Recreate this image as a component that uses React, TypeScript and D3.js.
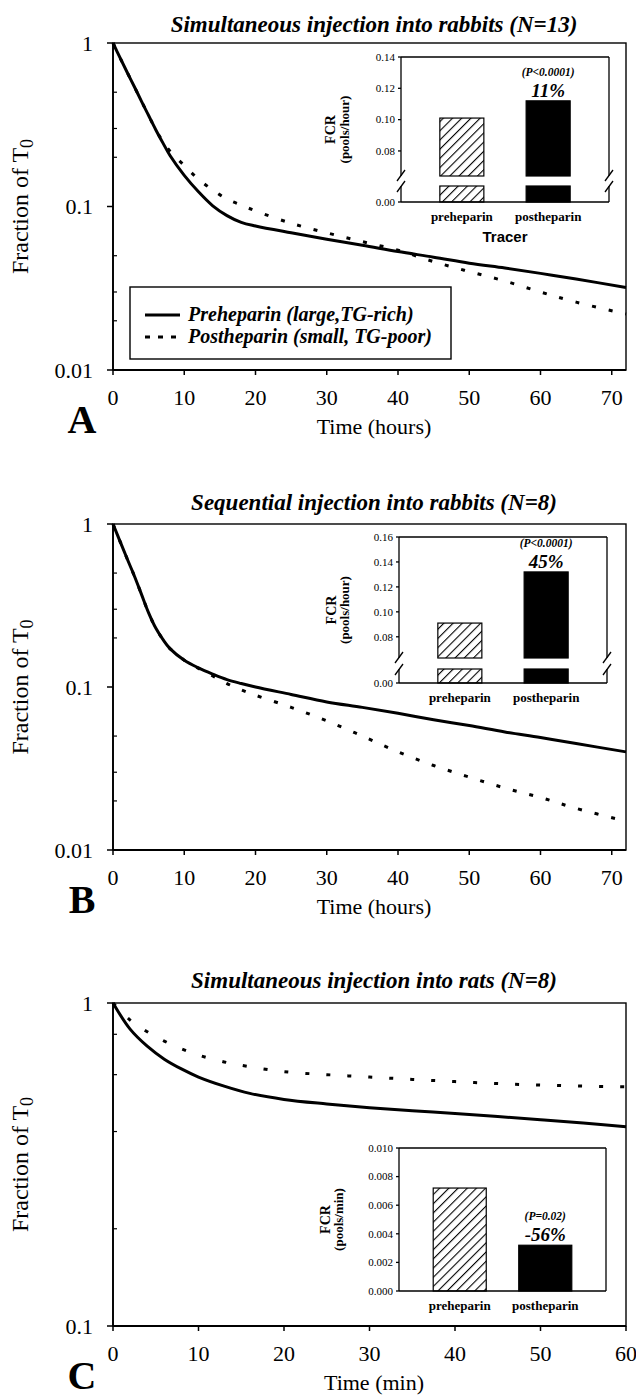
import React from "react"
import * as d3 from "d3"

const serif = "'Liberation Serif', 'Times New Roman', serif"
const sans = "'Liberation Sans', Arial, sans-serif"

// sampling times (hours) for the two rabbit panels
const hours = [0, 1, 2, 3, 4, 5, 6, 7, 8, 10, 12, 14, 16, 18, 20, 25, 30, 35, 40, 45, 50, 55, 60, 65, 72]
// fraction of T0 remaining
const preA = [1, 0.81, 0.66, 0.54, 0.44, 0.36, 0.295, 0.245, 0.205, 0.155, 0.123, 0.101, 0.088, 0.08, 0.076, 0.069, 0.063, 0.058, 0.053, 0.049, 0.045, 0.042, 0.039, 0.036, 0.032]
const postA = [1, 0.81, 0.66, 0.54, 0.44, 0.36, 0.295, 0.25, 0.218, 0.178, 0.147, 0.126, 0.111, 0.102, 0.094, 0.079, 0.069, 0.061, 0.054, 0.046, 0.04, 0.035, 0.03, 0.026, 0.022]
const preB = [1, 0.78, 0.61, 0.48, 0.37, 0.285, 0.23, 0.196, 0.172, 0.146, 0.131, 0.12, 0.111, 0.105, 0.1, 0.09, 0.081, 0.075, 0.069, 0.063, 0.058, 0.053, 0.049, 0.045, 0.04]
const postB = [1, 0.78, 0.61, 0.48, 0.37, 0.285, 0.23, 0.196, 0.172, 0.146, 0.13, 0.117, 0.105, 0.096, 0.089, 0.075, 0.062, 0.05, 0.04, 0.033, 0.028, 0.024, 0.021, 0.018, 0.015]
// rats, minutes
const minutes = [0, 2, 4, 6, 8, 10, 13, 16, 20, 25, 30, 35, 40, 45, 50, 55, 60]
const preC = [1, 0.83, 0.735, 0.67, 0.625, 0.59, 0.553, 0.525, 0.503, 0.487, 0.474, 0.464, 0.455, 0.445, 0.435, 0.425, 0.414]
const postC = [1, 0.885, 0.815, 0.762, 0.722, 0.69, 0.657, 0.635, 0.613, 0.6, 0.59, 0.58, 0.571, 0.563, 0.557, 0.553, 0.55]

// inset bar values (FCR)
const tracers = ["preheparin", "postheparin"]
const fcrA = [0.101, 0.112]
const fcrB = [0.091, 0.132]
const fcrC = [0.0072, 0.0032]

// ticks
const hourTicks = [0, 10, 20, 30, 40, 50, 60, 70]
const minTicks = [0, 10, 20, 30, 40, 50, 60]
const fracTicksAB = [1, 0.1, 0.01]
const fracTicksC = [1, 0.1]
const minorAB = [0.5, 0.3, 0.2, 0.05, 0.03, 0.02]
const minorC = [0.8, 0.6, 0.4, 0.2]
const fcrTicksA = [0.14, 0.12, 0.1, 0.08, 0]
const fcrTicksB = [0.16, 0.14, 0.12, 0.1, 0.08, 0]
const fcrTicksC = [0.01, 0.008, 0.006, 0.004, 0.002, 0]

const LEFT = 113
const RIGHT = 626

const panels = [
  {
    letter: "A", title: "Simultaneous injection into rabbits (N=13)", xLabel: "Time (hours)",
    t: hours, pre: preA, post: postA, xDomain: [0, 72], xTicks: hourTicks,
    yDomain: [0.01, 1], yTicks: fracTicksAB, minor: minorAB,
    top: 43, bottom: 370, titleY: 32, dash: "4 13", legend: true,
    inset: {
      values: fcrA, ticks: fcrTicksA, fmt: ".2f", box: [401, 609, 57, 202],
      upper: [0.064, 0.14], upperRange: [176, 57], lower: [0, 0.01], lowerRange: [202, 186],
      pad: [0.49, 0.45], fcrX: 335, unitX: 349, unit: "(pools/hour)", p: "(P<0.0001)", change: "11%", tracer: true,
    },
  },
  {
    letter: "B", title: "Sequential injection into rabbits (N=8)", xLabel: "Time (hours)",
    t: hours, pre: preB, post: postB, xDomain: [0, 72], xTicks: hourTicks,
    yDomain: [0.01, 1], yTicks: fracTicksAB, minor: minorAB,
    top: 524, bottom: 850, titleY: 510, dash: "4 13", legend: false,
    inset: {
      values: fcrB, ticks: fcrTicksB, fmt: ".2f", box: [399, 607, 537, 683],
      upper: [0.063, 0.16], upperRange: [658, 537], lower: [0, 0.01], lowerRange: [683, 669],
      pad: [0.49, 0.45], fcrX: 336, unitX: 349, unit: "(pools/hour)", p: "(P<0.0001)", change: "45%", tracer: false,
    },
  },
  {
    letter: "C", title: "Simultaneous injection into rats (N=8)", xLabel: "Time (min)",
    t: minutes, pre: preC, post: postC, xDomain: [0, 60], xTicks: minTicks,
    yDomain: [0.1, 1], yTicks: fracTicksC, minor: minorC,
    top: 1003, bottom: 1326, titleY: 988, dash: "4 17", legend: false,
    inset: {
      values: fcrC, ticks: fcrTicksC, fmt: ".3f", box: [399, 606, 1148, 1291],
      upper: [0, 0.01], upperRange: [1291, 1148], lower: null, lowerRange: null,
      pad: [0.38, 0.4], fcrX: 330, unitX: 343, unit: "(pools/min)", p: "(P=0.02)", change: "-56%", tracer: false,
    },
  },
]

function Inset({ s }: { s: any }) {
  const [x0, x1, y0, y1] = s.box
  const x = d3.scaleBand().domain(tracers).range([x0, x1]).paddingInner(s.pad[0]).paddingOuter(s.pad[1])
  const up = d3.scaleLinear().domain(s.upper).range(s.upperRange)
  const low = s.lower ? d3.scaleLinear().domain(s.lower).range(s.lowerRange) : null
  const y = (v: number) => (low && v <= s.lower[1] ? low(v) : up(v))
  const fmt = d3.format(s.fmt)
  const cy = (y0 + y1) / 2
  const gapTop = s.upperRange[0]
  const gapBot = low ? s.lowerRange[1] : null
  const postX = x("postheparin")! + x.bandwidth() / 2
  const postTop = y(s.values[1])

  // axis sides, broken where the scale jumps
  const side = (sx: number) =>
    low ? (
      <g>
        <line x1={sx} x2={sx} y1={y0} y2={gapTop} />
        <line x1={sx} x2={sx} y1={gapBot!} y2={y1} />
        <line x1={sx - 4} x2={sx + 4} y1={gapTop + 5} y2={gapTop - 6} />
        <line x1={sx - 4} x2={sx + 4} y1={gapBot! + 6} y2={gapBot! - 5} />
      </g>
    ) : (
      <line x1={sx} x2={sx} y1={y0} y2={y1} />
    )

  return (
    <g>
      <rect x={x0} y={y0} width={x1 - x0} height={y1 - y0} fill="white" />
      {tracers.map((k, i) => {
        const v = s.values[i]
        const fill = i === 0 ? "url(#hatch)" : "black"
        const bx = x(k)!
        const bw = x.bandwidth()
        if (low) {
          return (
            <g key={k}>
              <rect x={bx} y={y(v)} width={bw} height={gapTop - y(v)} fill={fill} stroke="black" strokeWidth={1.2} />
              <rect x={bx} y={gapBot!} width={bw} height={y1 - gapBot!} fill={fill} stroke="black" strokeWidth={1.2} />
            </g>
          )
        }
        return <rect key={k} x={bx} y={y(v)} width={bw} height={y1 - y(v)} fill={fill} stroke="black" strokeWidth={1.2} />
      })}
      <g stroke="black" strokeWidth={1.3} fill="none">
        <line x1={x0} x2={x1} y1={y0} y2={y0} />
        <line x1={x0} x2={x1} y1={y1} y2={y1} strokeWidth={1.6} />
        {side(x0)}
        {side(x1)}
        {s.ticks.map((v: number) => (
          <line key={v} x1={x0 - 3} x2={x0} y1={y(v)} y2={y(v)} />
        ))}
      </g>
      {s.ticks.map((v: number) => (
        <text key={v} x={x0 - 6} y={y(v)} dy="0.35em" textAnchor="end" fontSize={11} fontFamily={serif}>
          {fmt(v)}
        </text>
      ))}
      {tracers.map((k) => (
        <text key={k} x={x(k)! + x.bandwidth() / 2} y={y1 + 19} textAnchor="middle" fontSize={13} fontWeight="bold" fontFamily={serif}>
          {k}
        </text>
      ))}
      {s.tracer && (
        <text x={(x0 + x1) / 2} y={y1 + 40} textAnchor="middle" fontSize={15} fontWeight="bold" fontFamily={sans}>
          Tracer
        </text>
      )}
      <text transform={`translate(${s.fcrX},${cy}) rotate(-90)`} textAnchor="middle" fontSize={14} fontWeight="bold" fontFamily={serif}>
        FCR
      </text>
      <text transform={`translate(${s.unitX},${cy}) rotate(-90)`} textAnchor="middle" fontSize={13} fontWeight="bold" fontFamily={serif}>
        {s.unit}
      </text>
      <text x={postX} y={postTop - 25} textAnchor="middle" fontSize={11.5} fontWeight="bold" fontStyle="italic" fontFamily={serif}>
        {s.p}
      </text>
      <text x={postX} y={postTop - 4} textAnchor="middle" fontSize={19} fontWeight="bold" fontStyle="italic" fontFamily={serif}>
        {s.change}
      </text>
    </g>
  )
}

function Panel({ p }: { p: any }) {
  const x = d3.scaleLinear().domain(p.xDomain).range([LEFT, RIGHT])
  const y = d3.scaleLog().domain(p.yDomain).range([p.bottom, p.top])
  const line = d3
    .line<number>()
    .x((_, i) => x(p.t[i]))
    .y((d) => y(d))
    .curve(d3.curveCatmullRom.alpha(0.5))
  const midY = (p.top + p.bottom) / 2

  return (
    <g>
      <text x={374} y={p.titleY} textAnchor="middle" fontSize={23} fontWeight="bold" fontStyle="italic" fontFamily={serif}>
        {p.title}
      </text>

      {/* frame */}
      <rect x={LEFT} y={p.top} width={RIGHT - LEFT} height={p.bottom - p.top} fill="none" stroke="black" strokeWidth={1.4} />
      <line x1={LEFT} x2={RIGHT} y1={p.bottom} y2={p.bottom} stroke="black" strokeWidth={2} />
      <line x1={LEFT} x2={LEFT} y1={p.top} y2={p.bottom} stroke="black" strokeWidth={1.8} />

      {/* y ticks */}
      {p.yTicks.map((v: number) => (
        <g key={v}>
          <line x1={LEFT - 6} x2={LEFT} y1={y(v)} y2={y(v)} stroke="black" strokeWidth={1.5} />
          <text x={93} y={y(v)} dy="0.35em" textAnchor="end" fontSize={22} fontFamily={serif}>
            {String(v)}
          </text>
        </g>
      ))}
      {p.minor.map((v: number) => (
        <line key={v} x1={LEFT} x2={LEFT + 4} y1={y(v)} y2={y(v)} stroke="black" strokeWidth={1.2} />
      ))}

      {/* x ticks */}
      {p.xTicks.map((v: number) => (
        <g key={v}>
          <line x1={x(v)} x2={x(v)} y1={p.bottom} y2={p.bottom + 5} stroke="black" strokeWidth={1.5} />
          <text x={x(v)} y={p.bottom + 35} textAnchor="middle" fontSize={22} fontFamily={serif}>
            {v}
          </text>
        </g>
      ))}

      <text x={82} y={p.bottom + 63} textAnchor="middle" fontSize={40} fontWeight="bold" fontFamily={serif}>
        {p.letter}
      </text>
      <text x={374} y={p.bottom + 64} textAnchor="middle" fontSize={22} fontFamily={serif}>
        {p.xLabel}
      </text>
      <text transform={`translate(28,${midY}) rotate(-90)`} textAnchor="middle" fontSize={24} fontFamily={serif}>
        Fraction of T<tspan fontSize={18} dy={5}>0</tspan>
      </text>

      {/* curves */}
      <path d={line(p.pre)!} fill="none" stroke="black" strokeWidth={3} />
      <path d={line(p.post)!} fill="none" stroke="black" strokeWidth={3} strokeDasharray={p.dash} />

      {p.legend && (
        <g>
          <rect x={130} y={287} width={321} height={72} fill="white" stroke="black" strokeWidth={1.4} />
          <line x1={145} x2={180} y1={315} y2={315} stroke="black" strokeWidth={3} />
          <line x1={145} x2={180} y1={337} y2={337} stroke="black" strokeWidth={3} strokeDasharray="5 8" />
          <text x={188} y={321} fontSize={20} fontWeight="bold" fontStyle="italic" fontFamily={serif}>
            Preheparin (large,TG-rich)
          </text>
          <text x={188} y={343} fontSize={20} fontWeight="bold" fontStyle="italic" fontFamily={serif}>
            Postheparin (small, TG-poor)
          </text>
        </g>
      )}

      <Inset s={p.inset} />
    </g>
  )
}

export default function App() {
  return (
    <svg width={636} height={1399} style={{ position: "absolute", left: 0, top: 0, background: "white" }}>
      <defs>
        <pattern id="hatch" patternUnits="userSpaceOnUse" width={6.5} height={6.5} patternTransform="rotate(45)">
          <rect width={6.5} height={6.5} fill="white" />
          <line x1={0} x2={0} y1={0} y2={6.5} stroke="black" strokeWidth={2.2} />
        </pattern>
      </defs>
      {panels.map((p) => (
        <Panel key={p.letter} p={p} />
      ))}
    </svg>
  )
}
